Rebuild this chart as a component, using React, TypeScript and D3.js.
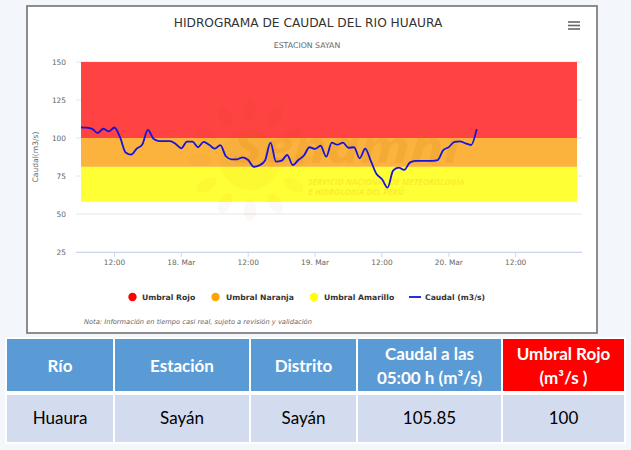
import React from "react";
import * as d3 from "d3";

// ---- Data ----
const seriesStartUTC = Date.UTC(2020, 2, 17, 6); // 17 Mar 06:00, hourly readings
const caudal = [
  107.0, 106.8, 106.0, 103.3, 106.1, 104.3, 106.9, 100.5, 90.5, 89.0,
  93.0, 95.8, 105.3, 99.5, 98.0, 98.0, 98.0, 96.0, 93.2, 97.6,
  97.6, 93.9, 97.5, 95.5, 93.0, 95.3, 88.0, 86.0, 86.0, 87.3,
  85.5, 81.1, 82.0, 85.0, 96.9, 84.4, 85.1, 88.8, 82.2, 85.5,
  88.5, 93.9, 92.8, 94.9, 87.7, 96.9, 95.6, 96.9, 93.6, 93.9,
  86.6, 93.0, 85.0, 76.5, 73.0, 67.3, 78.5, 80.5, 79.0, 83.8,
  85.0, 85.0, 84.9, 85.0, 85.5, 92.1, 94.0, 97.5, 97.8, 96.5,
  95.4, 105.85,
];
const bandNames = ["Umbral Rojo", "Umbral Naranja", "Umbral Amarillo"];
const bandLow = [100, 81, 58];
const bandHigh = [150, 100, 81];
const bandStartUTC = Date.UTC(2020, 2, 17, 6);
const bandEndUTC = Date.UTC(2020, 2, 20, 23);
const yTicks = [25, 50, 75, 100, 125, 150];
const xTickTimes = [
  Date.UTC(2020, 2, 17, 12), Date.UTC(2020, 2, 18, 0), Date.UTC(2020, 2, 18, 12),
  Date.UTC(2020, 2, 19, 0), Date.UTC(2020, 2, 19, 12), Date.UTC(2020, 2, 20, 0),
  Date.UTC(2020, 2, 20, 12),
];
const xTickLabels = ["12:00", "18. Mar", "12:00", "19. Mar", "12:00", "20. Mar", "12:00"];
const tableHeaders = [["Río"], ["Estación"], ["Distrito"], ["Caudal a las", "05:00 h (m³/s)"], ["Umbral Rojo", "(m³/s )"]];
const tableRow = ["Huaura", "Sayán", "Sayán", "105.85", "100"];

// ---- Styles ----
const bandColors = ["#ff4242", "#fbb33e", "#ffff35"];
const legendColors = ["#ff0000", "#ffa500", "#ffff00"];
const lineColor = "#1414dc";
const FONT = "'DejaVu Sans', sans-serif";
const TFONT = "Lato, 'Open Sans', sans-serif";

export default function App() {
  const H = 3600e3;
  const x = d3.scaleUtc()
    .domain([new Date(bandStartUTC - 0.9 * H), new Date(bandEndUTC + 0.9 * H)])
    .range([76, 582]);
  const y = d3.scaleLinear().domain([25, 150]).range([252, 62]);
  const pts: [number, number][] = caudal.map((v, i) => [seriesStartUTC + i * H, v]);
  const line = d3.line<[number, number]>()
    .x((d) => x(new Date(d[0])))
    .y((d) => y(d[1]))
    .curve(d3.curveMonotoneX);

  const colX = [7, 115, 251, 358, 503];
  const colW = [106, 134, 105, 143, 121];
  const headerColors = ["#5b9bd5", "#5b9bd5", "#5b9bd5", "#5b9bd5", "#ff0000"];

  const legendItems = [
    { name: bandNames[0], color: legendColors[0], sx: 132.5, tx: 142 },
    { name: bandNames[1], color: legendColors[1], sx: 215.5, tx: 226 },
    { name: bandNames[2], color: legendColors[2], sx: 314, tx: 324 },
  ];

  const rays = d3.range(12);

  return (
    <svg width={631} height={450} style={{ position: "absolute", left: 0, top: 0 }}>
      <rect x={0} y={0} width={631} height={450} fill="#f3f6fb" />
      {/* chart frame */}
      <rect x={27} y={6} width={570} height={327} fill="#ffffff" stroke="#727272" strokeWidth={1.6} />
      <text x={308} y={27} textAnchor="middle" fontFamily={FONT} fontSize={12.2} fill="#333">
        HIDROGRAMA DE CAUDAL DEL RIO HUAURA
      </text>
      <text x={307} y={48} textAnchor="middle" fontFamily={FONT} fontSize={7.8} fill="#666">
        ESTACION SAYAN
      </text>
      {[22, 25.5, 29].map((yy, i) => (
        <line key={i} x1={568} x2={580} y1={yy} y2={yy} stroke="#666" strokeWidth={1.6} />
      ))}

      {/* grid */}
      {yTicks.map((t) => (
        <line key={t} x1={76} x2={582} y1={y(t)} y2={y(t)} stroke="#e6e6e6" strokeWidth={1} />
      ))}
      {/* bands */}
      {bandNames.map((n, i) => (
        <rect key={n}
          x={x(new Date(bandStartUTC))}
          width={x(new Date(bandEndUTC)) - x(new Date(bandStartUTC))}
          y={y(bandHigh[i])}
          height={y(bandLow[i]) - y(bandHigh[i])}
          fill={bandColors[i]} />
      ))}

      {/* watermark */}
      <g opacity={0.035} fill="#c05000">
        <circle cx={250} cy={160} r={30} />
        {rays.map((r) => {
          const a = (r / 12) * Math.PI * 2;
          const cx = 250 + Math.cos(a) * 50;
          const cy = 160 + Math.sin(a) * 50;
          return (
            <ellipse key={r} cx={cx} cy={cy} rx={11} ry={6}
              transform={`rotate(${(a * 180) / Math.PI} ${cx} ${cy})`} />
          );
        })}
      </g>
      <text x={233} y={163} fontFamily="'Open Sans', sans-serif" fontWeight="bold" fontStyle="italic"
        fontSize={44} fill="#d06a00" opacity={0.12} textLength={227} lengthAdjust="spacingAndGlyphs">
        Senamhi
      </text>
      <text x={308} y={185} fontFamily="'Open Sans', sans-serif" fontWeight="bold" fontStyle="italic"
        fontSize={8.4} fill="#d06a00" opacity={0.12}>
        SERVICIO NACIONAL DE METEOROLOGÍA
      </text>
      <text x={308} y={195} fontFamily="'Open Sans', sans-serif" fontWeight="bold" fontStyle="italic"
        fontSize={8.4} fill="#d06a00" opacity={0.12}>
        E HIDROLOGÍA DEL PERÚ
      </text>

      {/* series */}
      <path d={line(pts) || ""} fill="none" stroke={lineColor} strokeWidth={1.8} strokeLinejoin="round" />

      {/* y axis */}
      {yTicks.map((t) => (
        <text key={t} x={66} y={y(t) + 2.7} textAnchor="end" fontFamily={FONT} fontSize={7.4} fill="#666">
          {t}
        </text>
      ))}
      <text transform={`translate(38,157) rotate(-90)`} textAnchor="middle" fontFamily={FONT} fontSize={7.6} fill="#666">
        Caudal(m3/s)
      </text>

      {/* x axis */}
      <line x1={76} x2={582} y1={252.5} y2={252.5} stroke="#ccd6eb" strokeWidth={1} />
      {xTickTimes.map((t, i) => (
        <g key={i}>
          <line x1={x(new Date(t))} x2={x(new Date(t))} y1={252} y2={257} stroke="#ccd6eb" strokeWidth={1} />
          <text x={x(new Date(t))} y={265} textAnchor="middle" fontFamily={FONT} fontSize={7.4} fill="#666">
            {xTickLabels[i]}
          </text>
        </g>
      ))}

      {/* legend */}
      {legendItems.map((it) => (
        <g key={it.name}>
          <circle cx={it.sx} cy={297} r={4.2} fill={it.color} />
          <text x={it.tx} y={300} fontFamily={FONT} fontWeight="bold" fontSize={7.7} fill="#333">
            {it.name}
          </text>
        </g>
      ))}
      <line x1={409} x2={421} y1={297} y2={297} stroke={lineColor} strokeWidth={1.8} />
      <text x={425} y={300} fontFamily={FONT} fontWeight="bold" fontSize={7.7} fill="#333">
        Caudal (m3/s)
      </text>
      <text x={84} y={324} fontFamily={FONT} fontStyle="italic" fontSize={6.7} fill="#666">
        Nota: Información en tiempo casi real, sujeto a revisión y validación
      </text>

      {/* table */}
      <rect x={5} y={337} width={621} height={107} fill="#ffffff" />
      {tableHeaders.map((lines, i) => (
        <g key={i}>
          <rect x={colX[i]} y={339} width={colW[i]} height={52} fill={headerColors[i]} />
          {lines.map((l, j) => (
            <text key={j} x={colX[i] + colW[i] / 2}
              y={lines.length === 1 ? 372 : 360 + j * 24}
              textAnchor="middle" fontFamily={TFONT} fontWeight="bold" fontSize={17} fill="#ffffff">
              {l}
            </text>
          ))}
          <rect x={colX[i]} y={395} width={colW[i]} height={47} fill="#d2dcee" />
          <text x={colX[i] + colW[i] / 2} y={424} textAnchor="middle" fontFamily={TFONT} fontSize={17} fill="#000">
            {tableRow[i]}
          </text>
        </g>
      ))}
    </svg>
  );
}
